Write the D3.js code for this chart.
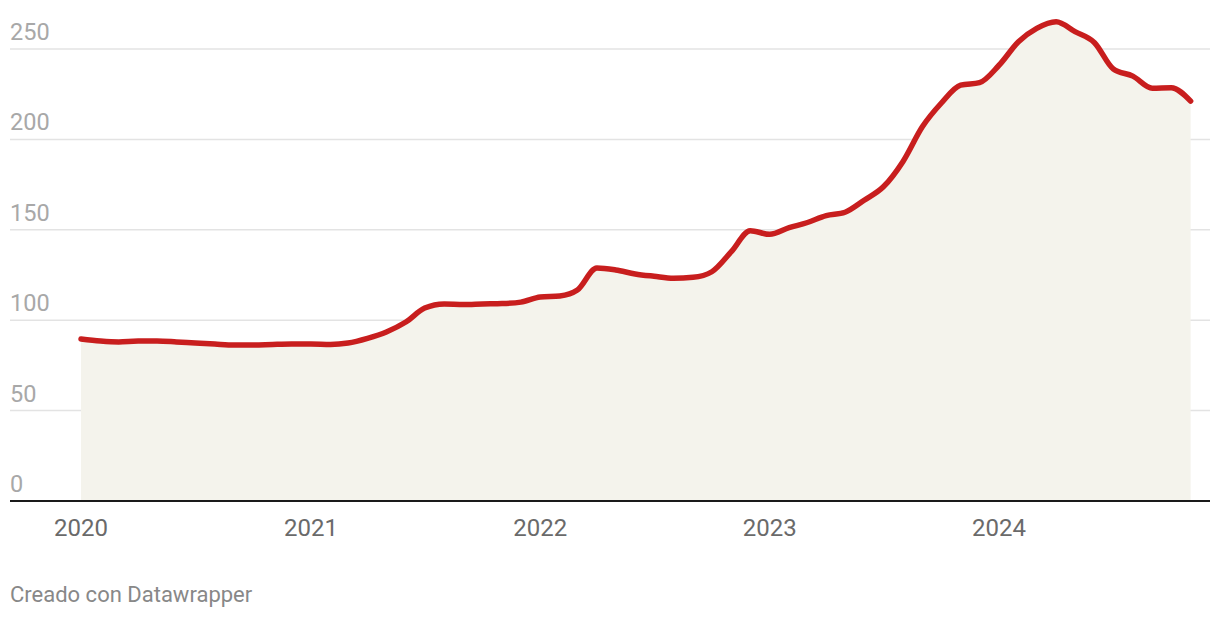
<!DOCTYPE html>
<html lang="es">
<head>
<meta charset="UTF-8">
<title>Creado con Datawrapper</title>
<script src="https://d3js.org/d3.v7.min.js"></script>
<style>
  body { margin: 0; background: #fff; font-family: Roboto, "Noto Sans", sans-serif; }
  .ylab { fill: #a8a8a8; font-size: 23.5px; }
  .xlab { fill: #6a6a6a; font-size: 24px; }
  .nota { fill: #888; font-size: 22px; }
</style>
</head>
<body>
<div id="grafico"></div>
<script>
// mensual, ene 2020 - nov 2024
const meses = [
  "2020-01","2020-02","2020-03","2020-04","2020-05","2020-06","2020-07","2020-08","2020-09","2020-10","2020-11","2020-12",
  "2021-01","2021-02","2021-03","2021-04","2021-05","2021-06","2021-07","2021-08","2021-09","2021-10","2021-11","2021-12",
  "2022-01","2022-02","2022-03","2022-04","2022-05","2022-06","2022-07","2022-08","2022-09","2022-10","2022-11","2022-12",
  "2023-01","2023-02","2023-03","2023-04","2023-05","2023-06","2023-07","2023-08","2023-09","2023-10","2023-11","2023-12",
  "2024-01","2024-02","2024-03","2024-04","2024-05","2024-06","2024-07","2024-08","2024-09","2024-10","2024-11"
];
const valores = [
  89.6, 88.5, 88.0, 88.5, 88.5, 88.0, 87.4, 86.8, 86.3, 86.3, 86.6, 86.8,
  86.8, 86.6, 87.4, 90.0, 93.5, 99.0, 106.7, 109.0, 108.7, 109.0, 109.2, 110.0,
  112.8, 113.4, 116.7, 128.9, 127.8, 125.6, 124.3, 123.2, 123.7, 126.8, 137.9, 149.5,
  147.5, 151.2, 153.9, 157.8, 159.7, 166.5, 173.8, 187.7, 207.0, 220.0, 230.0, 231.4,
  241.0, 254.0, 261.4, 265.1, 259.6, 253.5, 238.9, 235.0, 228.3, 228.6, 221.2
];
const yTicks = [0, 50, 100, 150, 200, 250];
const xTicks = ["2020", "2021", "2022", "2023", "2024"];

const W = 1220, H = 618;
const parse = d3.timeParse("%Y-%m");
const data = meses.map((m, i) => ({ fecha: parse(m), valor: valores[i] }));

const svg = d3.select("#grafico").append("svg")
  .attr("width", W).attr("height", H);

const x = d3.scaleTime()
  .domain([new Date(2020, 0, 1), new Date(2024, 0, 1)])
  .range([81, 999]);
const y = d3.scaleLinear().domain([0, 250]).range([501, 49]);

// rejilla
yTicks.filter(d => d > 0).forEach(t => {
  svg.append("line")
    .attr("x1", 10).attr("x2", 1210)
    .attr("y1", y(t)).attr("y2", y(t))
    .attr("stroke", "#e3e3e3").attr("stroke-width", 1.5);
});

// area
svg.append("path")
  .datum(data)
  .attr("fill", "#f4f3ec")
  .attr("d", d3.area().x(d => x(d.fecha)).y0(y(0)).y1(d => y(d.valor)).curve(d3.curveMonotoneX));

// etiquetas eje y
yTicks.forEach(t => {
  svg.append("text").attr("class", "ylab")
    .attr("x", 10).attr("y", y(t) - 9)
    .text(t);
});

// linea base
svg.append("line")
  .attr("x1", 10).attr("x2", 1210)
  .attr("y1", y(0)).attr("y2", y(0))
  .attr("stroke", "#1a1a1a").attr("stroke-width", 2);

// linea
svg.append("path")
  .datum(data)
  .attr("fill", "none")
  .attr("stroke", "#c81e1e")
  .attr("stroke-width", 5.5)
  .attr("stroke-linejoin", "round")
  .attr("stroke-linecap", "round")
  .attr("d", d3.line().x(d => x(d.fecha)).y(d => y(d.valor)).curve(d3.curveMonotoneX));

// eje x
xTicks.forEach(t => {
  svg.append("text").attr("class", "xlab")
    .attr("x", x(new Date(+t, 0, 1))).attr("y", 536)
    .attr("text-anchor", "middle")
    .text(t);
});

svg.append("text").attr("class", "nota")
  .attr("x", 10).attr("y", 602)
  .text("Creado con Datawrapper");
</script>
</body>
</html>
